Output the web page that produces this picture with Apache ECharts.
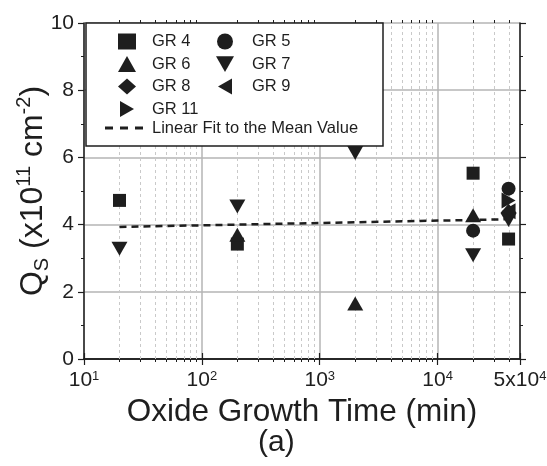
<!DOCTYPE html>
<html>
<head>
<meta charset="utf-8">
<script src="https://cdn.jsdelivr.net/npm/echarts@6/dist/echarts.min.js"></script>
<style>
  html, body { margin: 0; padding: 0; background: #fff; }
  #chart { width: 547px; height: 466px; }
</style>
</head>
<body>
<div id="chart"></div>
<script>
// Surface charge density Qs for each growth run, versus oxide growth time (min)
const gr4  = [[20, 4.72], [200, 3.42], [20000, 5.53], [40000, 3.57]];
const gr5  = [[20000, 3.82], [40000, 5.07]];
const gr6  = [[200, 3.70], [2000, 1.65], [20000, 4.28]];
const gr7  = [[20, 3.28], [200, 4.54], [2000, 6.13], [20000, 3.09], [40000, 4.14]];
const gr8  = [[40000, 4.35]];
const gr9  = [[40000, 4.40]];
const gr11 = [[40000, 4.72]];
// Fit to the mean value, straight on the log time axis
const meanFit = [[20, 3.93], [40000, 4.16]];

// Axis ticks
const xMajorTicks = [10, 100, 1000, 10000, 50000];
const xTickLabels = ['10{sup|1}', '10{sup|2}', '10{sup|3}', '10{sup|4}', '5x10{sup|4}'];
const xMinorTicks = [20, 30, 40, 50, 60, 70, 80, 90,
                     200, 300, 400, 500, 600, 700, 800, 900,
                     2000, 3000, 4000, 5000, 6000, 7000, 8000, 9000,
                     20000, 30000, 40000];
const yMin = 0, yMax = 10, yStep = 2;

const FONT = '"Liberation Sans", Arial, Helvetica, sans-serif';
const INK = '#1e1e1e';

const downTri  = 'path://M0,0 L16,0 L8,14 Z';
const leftTri  = 'path://M14,0 L14,16 L0,8 Z';
const rightTri = 'path://M0,0 L14,8 L0,16 Z';
// three short dashes for the fit line's legend key
const dashKey  = 'path://M0,0h8v3h-8z M15,0h8v3h-8z M30,0h8v3h-8z';

function scatter(name, data, symbol, size) {
  return {
    name: name, type: 'scatter', data: data,
    symbol: symbol, symbolSize: size,
    itemStyle: { color: INK, opacity: 1 },
    xAxisIndex: 0, yAxisIndex: 0, z: 5
  };
}

function xLabel(v) {
  for (let i = 0; i < xMajorTicks.length; i++) {
    if (Math.abs(v - xMajorTicks[i]) / xMajorTicks[i] < 1e-6) return xTickLabels[i];
  }
  return '';
}

const chart = echarts.init(document.getElementById('chart'), null, { renderer: 'canvas' });

const legendText = { fontFamily: FONT, fontSize: 16.5, color: INK };
const legendCommon = {
  orient: 'vertical', padding: 0, itemGap: 5.5, itemHeight: 16, itemWidth: 18,
  selectedMode: false, z: 10
};

chart.setOption({
  animation: false,
  backgroundColor: '#fff',
  textStyle: { fontFamily: FONT },
  title: {
    text: '(a)', left: 258, top: 428, padding: 0,
    textStyle: { fontFamily: FONT, fontSize: 30, fontWeight: 'normal', color: INK }
  },
  grid: { left: 84, right: 27, top: 23, bottom: 107, containLabel: false, outerBoundsMode: 'none' },
  graphic: [{
    type: 'rect', z: 8,
    shape: { x: 86, y: 23, width: 297, height: 123 },
    style: { fill: '#fff', stroke: INK, lineWidth: 1.5 }
  }],
  legend: [
    Object.assign({}, legendCommon, {
      left: 118, top: 33, data: ['GR 4', 'GR 6', 'GR 8', 'GR 11'],
      textStyle: Object.assign({}, legendText, { padding: [0, 0, 0, 11] })
    }),
    Object.assign({}, legendCommon, {
      left: 216, top: 33, data: ['GR 5', 'GR 7', 'GR 9'],
      textStyle: Object.assign({}, legendText, { padding: [0, 0, 0, 13] })
    }),
    Object.assign({}, legendCommon, {
      left: 105, top: 119.5, itemWidth: 38, itemHeight: 3,
      textStyle: Object.assign({}, legendText, { padding: [0, 0, 0, 4] }),
      data: [{ name: 'Linear Fit to the Mean Value', icon: dashKey }]
    })
  ],
  xAxis: [{
    type: 'log', logBase: 10, min: 10, max: 50000, position: 'bottom',
    axisLine: { lineStyle: { color: INK, width: 1.5 } },
    axisTick: { length: 6, lineStyle: { color: INK, width: 1.2 } },
    axisLabel: {
      formatter: xLabel, margin: 11, color: INK, fontFamily: FONT, fontSize: 21,
      showMinLabel: true, showMaxLabel: true,
      rich: { sup: { fontSize: 13, verticalAlign: 'top', fontFamily: FONT, color: INK } }
    },
    splitLine: { show: true, lineStyle: { color: '#b4b4b4', width: 1.5 } },
    name: 'Oxide Growth Time (min)', nameLocation: 'middle', nameGap: 35,
    nameTextStyle: { fontFamily: FONT, fontSize: 31.5, color: INK }
  }, {
    type: 'log', logBase: 10, min: 10, max: 50000, position: 'top',
    axisLine: { lineStyle: { color: INK, width: 1.5 } },
    axisTick: { length: 6, lineStyle: { color: INK, width: 1.2 } },
    axisLabel: { show: false },
    splitLine: { show: false }
  }],
  yAxis: [{
    type: 'value', min: yMin, max: yMax, interval: yStep, position: 'left',
    axisLine: { show: true, lineStyle: { color: INK, width: 1.5 } },
    axisTick: { show: true, length: 6, lineStyle: { color: INK, width: 1.2 } },
    minorTick: { show: true, splitNumber: 2, length: 3, lineStyle: { color: INK, width: 1 } },
    axisLabel: { margin: 10, color: INK, fontFamily: FONT, fontSize: 21 },
    splitLine: { show: true, lineStyle: { color: '#b4b4b4', width: 1.5 } },
    name: 'Q{sub|S} (x10{sup|11} cm{sup|-2})', nameLocation: 'middle', nameRotate: 90, nameGap: 32,
    nameMoveOverlap: false,
    nameTextStyle: {
      fontFamily: FONT, fontSize: 32, color: INK, lineHeight: 38,
      rich: {
        sub: { fontSize: 20, lineHeight: 21, verticalAlign: 'bottom', fontFamily: FONT, color: INK },
        sup: { fontSize: 20, lineHeight: 21, verticalAlign: 'top', fontFamily: FONT, color: INK }
      }
    }
  }, {
    type: 'value', min: yMin, max: yMax, interval: yStep, position: 'right',
    axisLine: { show: true, lineStyle: { color: INK, width: 1.5 } },
    axisTick: { show: true, length: 6, lineStyle: { color: INK, width: 1.2 } },
    minorTick: { show: true, splitNumber: 2, length: 3, lineStyle: { color: INK, width: 1 } },
    axisLabel: { show: false },
    splitLine: { show: false }
  }],
  series: [
    {
      // dashed minor grid lines and short minor ticks on the log time axis
      name: 'minor', type: 'custom', silent: true, z: 1,
      xAxisIndex: 0, yAxisIndex: 0,
      data: xMinorTicks.map(v => [v, yMin]),
      encode: { x: 0, y: 1 },
      renderItem: function (params, api) {
        const v = api.value(0);
        const pb = api.coord([v, yMin]);
        const pt = api.coord([v, yMax]);
        const x = Math.round(pb[0]) + 0.5;
        return {
          type: 'group',
          children: [
            { type: 'line', shape: { x1: x, y1: pb[1], x2: x, y2: pt[1] },
              style: { stroke: '#c9c9c9', lineWidth: 1, lineDash: [3, 3] } },
            { type: 'line', shape: { x1: x, y1: pb[1], x2: x, y2: pb[1] + 3 },
              style: { stroke: INK, lineWidth: 1 } },
            { type: 'line', shape: { x1: x, y1: pt[1], x2: x, y2: pt[1] - 3 },
              style: { stroke: INK, lineWidth: 1 } }
          ]
        };
      }
    },
    scatter('GR 4', gr4, 'rect', 13),
    scatter('GR 5', gr5, 'circle', 14),
    scatter('GR 6', gr6, 'triangle', [16, 14]),
    scatter('GR 7', gr7, downTri, [16, 14]),
    scatter('GR 8', gr8, 'diamond', [16, 18]),
    scatter('GR 9', gr9, leftTri, [14, 16]),
    scatter('GR 11', gr11, rightTri, [14, 16]),
    {
      name: 'Linear Fit to the Mean Value', type: 'line', data: meanFit,
      xAxisIndex: 0, yAxisIndex: 0, symbol: 'none', z: 4,
      lineStyle: { color: INK, width: 2.5, type: [7, 5] },
      itemStyle: { color: INK }
    }
  ]
});
</script>
</body>
</html>
